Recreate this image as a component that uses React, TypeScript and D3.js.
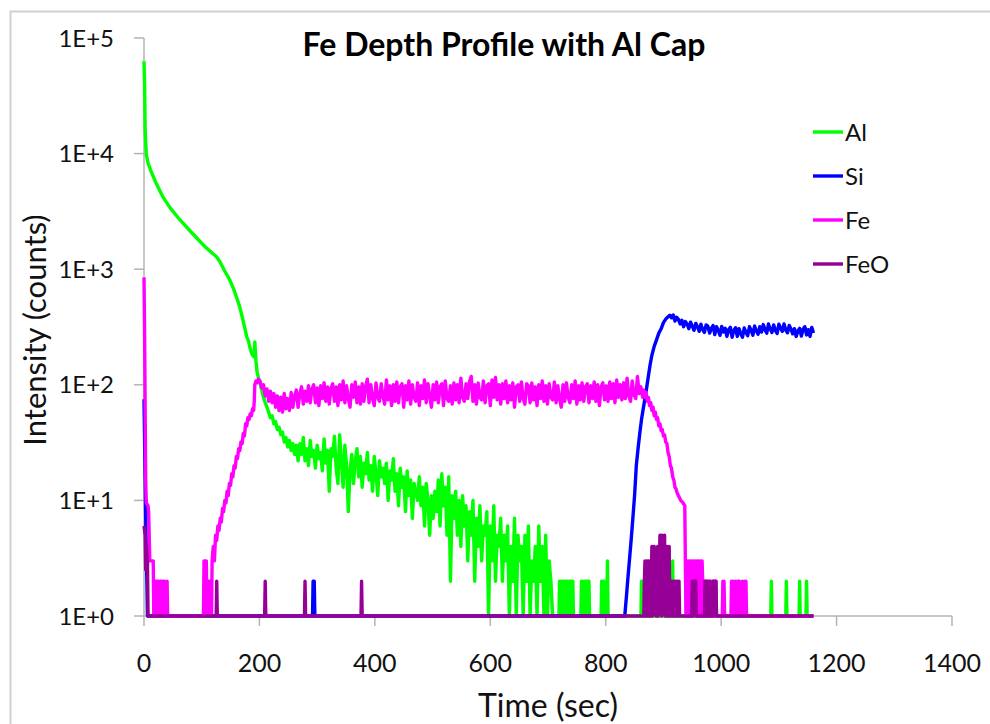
import React from "react";
import * as d3 from "d3";

type Pt = [number, number];

// ---------- data (time in sec, intensity in counts) ----------
const xTicks = [0, 200, 400, 600, 800, 1000, 1200, 1400];
const yTicks = [1, 10, 100, 1000, 10000, 100000];
const yTickLabels = ["1E+0", "1E+1", "1E+2", "1E+3", "1E+4", "1E+5"];
const seriesNames = ["Al", "Si", "Fe", "FeO"];
const seriesColors = ["#00ff00", "#0000ff", "#ff00ff", "#960096"];

// Al
const alHead: Pt[] = [[0,63000],[1,40000],[2,16000],[4,9800],[7,8300],[12,7080],[20,5680],[33,4200],[45,3410],[62,2680],[80,2140],[95,1780],[106,1560],[118,1380],[126,1276],[132,1150],[140,960],[145,870],[149,800],[155,680],[160,580],[166,470],[170,390],[174,320],[178,260],[181,240],[184,205],[187,185],[190,175],[192,235],[194,160],[196,128],[199,112],[202,98],[204,90]];
const alNoiseStart = 207;
const alNoiseStep = 3;
const alNoise = [
  78,70,64,58,52,54,46,48,41,43,
  37,39,32,35,29,33,27,31,25,30,
  22,31,25,35,22,28,20,33,24,27,
  19,30,23,26,18,34,21,27,12,28,
  24,36,19,14,37,22,13,30,20,8,
  18,25,14,22,28,16,24,13,21,17,
  26,15,20,12,24,17,11,22,16,19,
  14,21,10,18,15,23,12,17,9,19,
  13,16,8,18,11,15,7,14,12,10,
  16,9,13,6,14,10,5,11,7,12,
  8,15,6,17,9,13,5,16,2,11,
  7,12,5,10,4,11,6,9,3,8,
  5,10,2,7,4,9,3,6,5,8,
  1,6,3,9,2,5,4,7,2,5,
  3,6,1,4,2,7,1,5,3,4,
  1,5,2,6,1,3,2,4,1,6,
  2,4,1,5,1,3,2,1
];
const alGapA: Pt[] = [[712,1],[719,1]];
const alBlockA = [2,1,2,2,1,2,1,2,2,1,2,1,2,2,1,2,1,2,2,1,2,1,2,2]; // 720-743, 1 s
const alGapB: Pt[] = [[744,1],[757,1]];
const alBlockB = [2,1,2,2,1,2,1,2,1,2,2,1,2,2,1]; // 758-772, 1 s
const alTail: Pt[] = [[773,1],[792,1],[793,2],[794,1],[795,2],[797,2],[798,1],[802,1],[803,3],[804,1],[861,1],[862,2],[864,2],[865,1],[904,1],[905,2],[906,1],[915,1],[916,3],[917,1],[1031,1],[1032,2],[1033,1],[1086,1],[1087,2],[1088,1],[1112,1],[1113,2],[1114,1],[1135,1],[1136,2],[1137,1],[1147,1],[1148,2],[1149,1],[1160,1]];

// Si
const siHead: Pt[] = [[0,75],[1,35],[2,15],[3,7],[4,3.5],[5,2],[6,1],[292,1],[293,2],[295,2],[296,1],[833,1]];
const siRise: Pt[] = [[836,1.5],[838,2],[841,3],[844,4.5],[847,7],[850,11],[853,20],[856,28],[859,38],[862,50],[865,62],[868,76],[871,95],[874,120],[877,150],[880,180],[884,215],[888,245],[892,280],[896,305],[900,345],[904,370],[908,388],[911,400],[914,380]];
const siPlateauStart = 917;
const siPlateauStep = 3;
const siPlateau = [
  402,356,384,368,336,362,318,352,336,306,
  348,322,296,340,318,290,334,300,284,330,
  322,280,306,326,272,318,296,268,320,286,
  308,262,300,314,258,296,312,262,306,276,
  258,310,284,266,318,296,268,322,292,274,
  318,286,332,300,280,336,304,284,330,296,
  278,334,310,290,336,298,282,326,304,276,
  306,262,292,308,264,302,318,270,300,262,
  314,280
];

// Fe
const feHead: Pt[] = [[0,850],[1,300],[2,60],[3,14],[4,9.5],[7,9],[8,8],[9,5],[10,3],[16,3],[17,1],[18,2],[20,2],[21,1],[22,2],[25,2],[26,1],[28,2],[30,2],[31,1],[33,2],[35,2],[36,1],[39,1],[40,2],[41,1],[103,1],[104,3],[108,3],[109,1],[110,2],[114,2],[115,1],[117,1],[118,3],[120,4],[122,3],[124,5],[126,4.5],[128,6],[130,5.5],[132,7],[134,6.5],[136,8.5],[138,8],[140,10],[142,9.5],[144,12],[146,11],[148,14],[150,13.5],[152,17],[154,16],[156,20],[158,19],[160,24],[162,23],[164,28],[166,27],[168,32],[170,31],[172,38],[174,36],[176,46],[178,44],[180,52],[182,50],[184,56],[186,54],[188,62],[190,60],[191,72],[192,100],[194,108],[196,104],[198,112]];
const fePlateauStart = 201;
const fePlateauStep = 3;
const fePlateau = [
  108,94,100,80,92,72,88,70,84,64,
  80,60,78,58,84,62,76,60,86,64,
  80,90,64,84,96,68,88,72,98,70,
  92,100,70,94,66,98,76,104,72,96,
  68,94,102,72,96,66,100,74,108,70,
  98,76,64,100,78,106,70,96,68,102,
  72,98,112,70,100,76,66,104,78,72,
  102,80,68,110,74,98,66,100,72,106,
  70,96,102,64,98,74,108,68,100,78,
  72,104,66,98,76,110,70,102,80,64,
  100,74,106,70,96,102,66,108,76,72,
  98,68,104,74,100,70,114,78,72,102,
  76,106,118,72,100,68,104,78,74,108,
  70,98,102,66,110,78,116,74,100,68,
  102,76,108,70,98,74,104,64,96,100,
  72,106,76,68,102,98,70,104,74,96,
  66,100,76,108,72,98,68,102,78,74,
  106,70,98,76,64,100,72,104,78,70,
  100,76,108,68,98,74,104,72,96,102,
  70,98,76,106,72,100,66,96,104,74,
  98,72,106,76,102,70,110,78,100,74,
  104,76,114,80,72,108,82,76,118,84,
  96,78
];
const feDecline: Pt[] = [[866,90],[868,78],[870,86],[872,72],[874,78],[876,66],[878,70],[880,60],[882,64],[884,54],[886,58],[888,50],[890,52],[892,44],[894,46],[896,40],[898,41],[900,36],[902,37],[904,32],[906,31],[908,26],[910,24],[912,20],[914,19],[916,16],[918,15],[920,13],[922,12.5],[924,11.5],[926,11],[928,10.5],[930,10],[934,9.5],[937,9]];
const feLowStart = 938;
const feLow = [
  3,1,3,2,3,1,3,3,1,2,3,1,3,2,3,1,3,3,1,3,2,1,3,3,1,3,2,1,3,3,
  2,1,2,2,1,2,1,2,2,1,2,1,2,2,1,2,1,2,1,2,2,1,2,2,1
]; // 938-992, 1 s
const feTail: Pt[] = [[1002,1],[1003,2],[1004,1],[1005,2],[1006,1],[1017,1],[1018,2],[1019,1],[1020,2],[1021,2],[1022,1],[1024,1],[1025,2],[1026,1],[1028,2],[1029,1],[1030,2],[1031,2],[1032,1],[1036,1],[1037,2],[1038,1],[1040,1],[1041,2],[1042,1],[1043,2],[1044,1],[1160,1]];

// FeO
const feoHead: Pt[] = [[0,6],[2,5],[3,2.5],[4,4],[6,3],[7,1],[125,1],[126,2],[127,1],[209,1],[210,2],[211,1],[278,1],[279,2],[280,1],[376,1],[377,2],[378,1],[865,1]];
const feoClusterStart = 866;
const feoCluster = [
  1,2,3,1,3,2,3,1,3,2,
  3,1,3,2,4,1,4,3,4,2,
  3,1,3,2,4,1,4,3,5,2,
  5,1,5,3,4,2,5,1,4,3,
  4,1,3,2,4,1,2,1,2,2,
  1,2,2,1,2,1,2,2,1,2,
  1,2,1,1,1
]; // 866-930, 1 s
const feoTail: Pt[] = [[949,1],[950,2],[951,1],[952,2],[956,2],[957,1],[971,1],[972,2],[973,1],[974,2],[976,2],[977,1],[979,1],[980,2],[981,1],[985,1],[986,2],[987,1],[988,2],[991,2],[992,1],[1160,1]];

// ---------- assembly ----------
const seg = (t0: number, dt: number, vals: number[]): Pt[] => vals.map((v, i) => [t0 + i * dt, v] as Pt);

const alData: Pt[] = [...alHead, ...seg(alNoiseStart, alNoiseStep, alNoise), ...alGapA, ...seg(720, 1, alBlockA), ...alGapB, ...seg(758, 1, alBlockB), ...alTail];
const siData: Pt[] = [...siHead, ...siRise, ...seg(siPlateauStart, siPlateauStep, siPlateau)];
const feData: Pt[] = [...feHead, ...seg(fePlateauStart, fePlateauStep, fePlateau), ...feDecline, ...seg(feLowStart, 1, feLow), ...feTail];
const feoData: Pt[] = [...feoHead, ...seg(feoClusterStart, 1, feoCluster), ...feoTail];
const allSeries = [alData, siData, feData, feoData];

const W = 990, H = 724;
const FONT = "Lato, 'Open Sans', sans-serif";

export default function App() {
  const x = d3.scaleLinear().domain([0, 1400]).range([144, 952]);
  const y = d3.scaleLog().domain([1, 100000]).range([616, 38]);
  const line = d3.line<Pt>().x(d => x(d[0])).y(d => y(d[1]));
  const axisColor = "#b3b3b3";

  return (
    <svg width={W} height={H} style={{ position: "absolute", left: 0, top: 0, background: "#fff" }}>
      <rect x={0} y={0} width={W} height={H} fill="#fff" />
      <path d={`M10.5,${H} V11.5 H${W}`} fill="none" stroke="#d0d0d0" strokeWidth={2} />
      {/* title */}
      <text x={504} y={56} textAnchor="middle" fontFamily={FONT} fontWeight={700} fontSize={32} fill="#000">Fe Depth Profile with Al Cap</text>
      {/* y axis */}
      <line x1={144} x2={144} y1={y(100000)} y2={y(1)} stroke={axisColor} strokeWidth={1.5} />
      {yTicks.map((t, i) => (
        <g key={"yt" + i}>
          <line x1={134} x2={144} y1={y(t)} y2={y(t)} stroke={axisColor} strokeWidth={1.5} />
          <text x={114} y={y(t)} dy="0.36em" textAnchor="end" fontFamily={FONT} fontSize={24} fill="#111">{yTickLabels[i]}</text>
        </g>
      ))}
      {/* x axis */}
      <line x1={x(0)} x2={x(1400)} y1={616} y2={616} stroke={axisColor} strokeWidth={1.5} />
      {xTicks.map((t, i) => (
        <g key={"xt" + i}>
          <line x1={x(t)} x2={x(t)} y1={616} y2={626} stroke={axisColor} strokeWidth={1.5} />
          <text x={x(t)} y={672} textAnchor="middle" fontFamily={FONT} fontSize={25} fill="#111">{String(t)}</text>
        </g>
      ))}
      {/* axis titles */}
      <text transform="translate(46,330) rotate(-90)" textAnchor="middle" fontFamily={FONT} fontSize={31} fill="#111">Intensity (counts)</text>
      <text x={548} y={717} textAnchor="middle" fontFamily={FONT} fontSize={32} fill="#111">Time (sec)</text>
      {/* series */}
      {allSeries.map((s, i) => (
        <path key={"s" + i} d={line(s) || ""} fill="none" stroke={seriesColors[i]} strokeWidth={3.4} strokeLinejoin="round" />
      ))}
      {/* legend */}
      {seriesNames.map((n, i) => (
        <g key={"lg" + i}>
          <line x1={813} x2={843} y1={132 + i * 44} y2={132 + i * 44} stroke={seriesColors[i]} strokeWidth={3.4} />
          <text x={845} y={132 + i * 44} dy="0.36em" fontFamily={FONT} fontSize={24} fill="#111">{n}</text>
        </g>
      ))}
    </svg>
  );
}
